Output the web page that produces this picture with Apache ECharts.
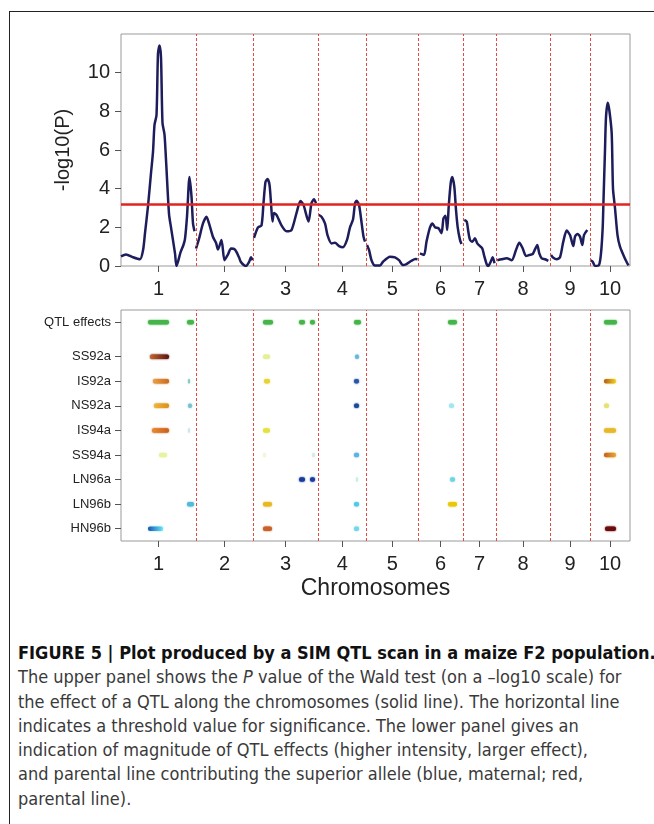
<!DOCTYPE html>
<html>
<head>
<meta charset="utf-8">
<script src="https://cdn.jsdelivr.net/npm/echarts@6/dist/echarts.min.js"></script>
<style>
  body { margin: 0; background: #fff; }
  #frame { position: absolute; left: 9px; top: 11px; width: 660px; height: 830px;
           border-left: 1.5px solid #222; border-top: 1.5px solid #222; }
  #chart { position: absolute; left: 0; top: 0; width: 654px; height: 620px; }
  #caption { position: absolute; left: 18px; top: 641px; width: 640px;
             font-family: "Liberation Sans Narrow", "DejaVu Sans Condensed", "Liberation Sans", sans-serif;
             font-size: 18px; line-height: 24.3px; color: #3a3a3a; white-space: nowrap; }
  #caption b { color: #111; }
</style>
</head>
<body>
<div id="frame"></div>
<div id="chart"></div>
<div id="caption">
  <b>FIGURE 5 | Plot produced by a SIM QTL scan in a maize F2 population.</b><br>
  The upper panel shows the <i>P</i> value of the Wald test (on a –log10 scale) for<br>
  the effect of a QTL along the chromosomes (solid line). The horizontal line<br>
  indicates a threshold value for significance. The lower panel gives an<br>
  indication of magnitude of QTL effects (higher intensity, larger effect),<br>
  and parental line contributing the superior allele (blue, maternal; red,<br>
  parental line).
</div>
<script>
// chromosome limits along the genome axis
var chromBounds = [0, 75, 132, 197, 245.5, 297, 342, 375, 429, 469, 509];
var chromNames = ['1', '2', '3', '4', '5', '6', '7', '8', '9', '10'];
var threshold = 3.2;

// -log10(P) scan, [position, value] per chromosome
var chr1 = [[0, 0.5], [5, 0.6], [12, 0.45], [19, 0.35], [22, 0.8], [24, 1.7], [27, 3.1], [30, 4.8], [32, 5.9],
  [33.5, 7.3], [35.5, 7.8], [37, 11.0], [38.5, 11.4], [40, 10.8], [41.5, 7.4], [43.5, 6.8], [45, 5.5],
  [48, 2.7], [50, 2.0], [54, 0.65], [55.5, 0.0], [59.5, 0.7], [62.5, 1.1], [64, 1.4], [66, 2.55],
  [68.5, 4.6], [70.5, 3.6], [72, 2.2], [73.5, 1.8]];
var chr2 = [[75, 0.9], [78, 1.4], [82, 2.2], [85.5, 2.55], [88, 2.2], [92, 1.5], [95, 1.2], [97, 0.85],
  [100.5, 1.35], [103.5, 0.3], [107, 0.6], [110, 0.9], [114, 0.85], [118, 0.45], [120, 0.2], [125, 0.0],
  [128, 0.2], [130, 0.45], [131.5, 0.3]];
var chr3 = [[133, 1.45], [137, 2.0], [140.5, 2.1], [142.5, 3.25], [144.5, 4.35], [146.5, 4.5], [148.5, 4.2],
  [150, 3.25], [151.5, 2.3], [153, 2.74], [155.5, 2.64], [160.5, 2.1], [165.5, 1.8], [170.5, 1.86],
  [175.5, 2.74], [179.5, 3.36], [182.5, 3.16], [187.5, 2.3], [190.5, 3.25], [193, 3.45], [195, 3.25]];
var chr4 = [[197.5, 2.64], [200.5, 2.55], [204, 2.2], [206.5, 1.6], [210.5, 1.17], [214, 1.2], [218, 1.03],
  [222, 0.97], [226, 1.35], [229, 2.0], [232, 2.4], [234, 3.24], [235.5, 3.38], [238, 3.16], [240, 2.47],
  [242.5, 1.52], [244, 1.26]];
var chr5 = [[246, 1.09], [248, 0.83], [250.5, 0.3], [254, 0.02], [259, 0.02], [262, 0.22], [269, 0.48],
  [274, 0.45], [278, 0.3], [282, 0.05], [285.5, 0.1], [290.5, 0.27], [294.5, 0.36], [296.5, 0.35]];
var chr6 = [[299, 0.65], [303, 0.57], [305.5, 1.26], [309, 2.0], [311.5, 2.2], [314, 2.0], [317.5, 1.95],
  [320.5, 1.7], [322.5, 2.47], [324.5, 2.6], [326.2, 1.86], [327.7, 3.07], [329.7, 4.28], [331.3, 4.6],
  [333.3, 4.1], [335, 2.9], [336.7, 2.0], [339, 1.35], [340.5, 1.14]];
var chr7 = [[343.3, 2.38], [345.7, 2.3], [347.3, 1.78], [349, 1.35], [351.3, 1.26], [354, 1.43], [356.3, 1.17],
  [359, 1.03], [361.3, 0.91], [363, 0.57], [365.7, 0.09], [367.3, 0.0], [369.7, 0.22], [371.7, 0.45],
  [373.5, 0.14]];
var chr8 = [[376.3, 0.3], [380.7, 0.35], [385.7, 0.4], [390.7, 0.3], [395, 0.83], [398.3, 1.2], [401.7, 0.91],
  [405, 0.52], [408.3, 0.57], [411.7, 0.62], [414, 0.86], [416.3, 1.09], [418.3, 0.65], [420.7, 0.4],
  [424, 0.35], [427.3, 0.27]];
var chr9 = [[430, 0.57], [432.3, 0.43], [435.7, 0.35], [439, 0.45], [442.3, 1.26], [445.7, 1.83], [449, 1.6],
  [452.3, 1.03], [454, 1.52], [456.3, 1.66], [459, 1.52], [461.3, 1.09], [463, 1.6], [466.3, 1.86]];
var chr10 = [[469.7, 0.3], [471.7, 0.22], [474, 0.0], [478, 0.05], [480, 0.65], [481.7, 2.0], [482.5, 3.4],
  [484, 6.0], [485, 7.7], [486.7, 8.45], [488.3, 8.07], [490.7, 6.86], [492, 4.0], [494, 3.0], [496.5, 1.6],
  [499, 1.0], [504, 0.38], [507.5, 0.03]];
var scans = [chr1, chr2, chr3, chr4, chr5, chr6, chr7, chr8, chr9, chr10];

// lower panel rows
var rowNames = ['QTL effects', 'SS92a', 'IS92a', 'NS92a', 'IS94a', 'SS94a', 'LN96a', 'LN96b', 'HN96b'];
var rowLevels = [9.4, 8, 7, 6, 5, 4, 3, 2, 1];

// effects: [row, from, to, colour, colour at right end]
var effects = [
  [0, 27, 48, '#45b54a'], [0, 66, 73, '#45b54a'], [0, 142, 152, '#45b54a'], [0, 178, 184, '#45b54a'],
  [0, 189, 194, '#45b54a'], [0, 233, 240, '#45b54a'], [0, 327, 336, '#45b54a'], [0, 483, 496, '#45b54a'],
  [1, 29, 48, '#c8642a', '#5a1212'], [1, 142, 149, '#e6ef98'], [1, 234, 238, '#68b6e0'],
  [2, 32, 48, '#eca040', '#c86a22'], [2, 67, 69, '#8ccaca'], [2, 143, 149, '#e8d234'], [2, 233, 238, '#2a58a6'],
  [2, 483, 495, '#b2581e', '#f0d224'],
  [3, 33, 48, '#f0b634', '#d8901e'], [3, 67, 71, '#74c2d2'], [3, 233, 238, '#1e4898'], [3, 328, 333, '#a2e6f0'],
  [3, 483, 488, '#e6e272'],
  [4, 31, 48, '#e88a30', '#c8601c'], [4, 67, 69, '#cce8e8'], [4, 142, 149, '#e2e244'], [4, 483, 495, '#e8b82a'],
  [5, 38, 46, '#e8f2a4'], [5, 142, 145, '#f0f7dc'], [5, 191, 194, '#d8ece4'], [5, 233, 238, '#5cb2e2'],
  [5, 483, 495, '#c06026', '#e8a834'],
  [6, 178, 184, '#1c3c9c'], [6, 189, 194, '#1c3c9c'], [6, 235, 237, '#c8f0e2'], [6, 329, 334, '#72d2e2'],
  [7, 66, 73, '#52bad8'], [7, 142, 151, '#e8b822'], [7, 233, 238, '#52c8e8'], [7, 327, 336, '#e8c808'],
  [8, 27, 42, '#2050b0', '#66e8f8'], [8, 142, 151, '#c8622a'], [8, 233, 238, '#72d8e8'], [8, 484, 495, '#6a0c0c']
];

var chromMids = chromNames.map(function (n, i) { return (chromBounds[i] + chromBounds[i + 1]) / 2; });
var innerBounds = chromBounds.slice(1, -1);
var font = '"Liberation Sans", Arial, Helvetica, sans-serif';

function chromLabel(v) {
  var best = 0;
  chromMids.forEach(function (m, i) { if (Math.abs(m - v) < Math.abs(chromMids[best] - v)) best = i; });
  return chromNames[best];
}
function rowLabel(v) {
  var i = rowLevels.indexOf(v);
  return i < 0 ? '' : rowNames[i];
}

var boundaryLines = innerBounds.map(function (b) {
  return { xAxis: b, lineStyle: { color: '#e24a46', type: [3, 2], width: 1 } };
});

var myChart = echarts.init(document.getElementById('chart'));

var xAxisBase = {
  type: 'value', min: chromBounds[0], max: chromBounds[chromBounds.length - 1],
  axisLine: { show: false },
  splitLine: { show: false },
  axisTick: { show: true, customValues: chromMids, length: 6, lineStyle: { color: '#555' } },
  axisLabel: { customValues: chromMids, formatter: chromLabel, fontSize: 20, color: '#222', fontFamily: font, margin: 13 }
};

var series = scans.map(function (pts, i) {
  var s = {
    type: 'line', xAxisIndex: 0, yAxisIndex: 0, data: pts,
    showSymbol: false, smooth: 0.25, silent: true,
    lineStyle: { color: '#1d1d5c', width: 2.5 }
  };
  if (i === 0) {
    s.markLine = {
      silent: true, symbol: ['none', 'none'], label: { show: false }, animation: false,
      data: boundaryLines.concat([{ yAxis: threshold, lineStyle: { color: '#e2231f', type: 'solid', width: 2.5 } }])
    };
  }
  return s;
});

series.push({
  type: 'custom', xAxisIndex: 1, yAxisIndex: 1, silent: true,
  data: effects.map(function (e) { return [rowLevels[e[0]], e[1], e[2]]; }),
  encode: { x: [1, 2], y: 0 },
  renderItem: function (params, api) {
    var e = effects[params.dataIndex];
    var p0 = api.coord([api.value(1), api.value(0)]);
    var p1 = api.coord([api.value(2), api.value(0)]);
    var h = 4.5;
    var fill = e[4]
      ? new echarts.graphic.LinearGradient(0, 0, 1, 0, [{ offset: 0, color: e[3] }, { offset: 1, color: e[4] }])
      : e[3];
    return {
      type: 'rect',
      shape: { x: p0[0], y: p0[1] - h / 2, width: Math.max(p1[0] - p0[0], 2), height: h, r: 2 },
      style: { fill: fill, shadowBlur: 2, shadowColor: e[4] || e[3] }
    };
  },
  markLine: {
    silent: true, symbol: ['none', 'none'], label: { show: false }, animation: false,
    data: boundaryLines
  }
});

var option = {
  animation: false,
  grid: [
    { left: 121, right: 24, top: 34, height: 232, show: true, borderColor: '#9a9a9a', borderWidth: 1 },
    { left: 121, right: 24, top: 310, height: 231, show: true, borderColor: '#9a9a9a', borderWidth: 1 }
  ],
  xAxis: [
    Object.assign({ gridIndex: 0 }, xAxisBase),
    Object.assign({ gridIndex: 1, name: 'Chromosomes', nameLocation: 'middle', nameGap: 36,
      nameTextStyle: { fontSize: 23, color: '#222', fontFamily: font } }, xAxisBase)
  ],
  yAxis: [
    {
      gridIndex: 0, type: 'value', min: 0, max: 12, interval: 2,
      name: '-log10(P)', nameLocation: 'middle', nameGap: 48,
      nameTextStyle: { fontSize: 20, color: '#222', fontFamily: font },
      axisLine: { show: false }, splitLine: { show: false },
      axisTick: { show: true, customValues: [0, 2, 4, 6, 8, 10], length: 6, lineStyle: { color: '#555' } },
      axisLabel: { customValues: [0, 2, 4, 6, 8, 10], fontSize: 20, color: '#222', fontFamily: font, margin: 11 }
    },
    {
      gridIndex: 1, type: 'value', min: 0.5, max: 9.9,
      axisLine: { show: false }, splitLine: { show: false },
      axisTick: { show: true, customValues: rowLevels, length: 6, lineStyle: { color: '#555' } },
      axisLabel: { customValues: rowLevels, formatter: rowLabel, fontSize: 13, color: '#222', fontFamily: font, margin: 10 }
    }
  ],
  series: series
};

myChart.setOption(option);
</script>
</body>
</html>
